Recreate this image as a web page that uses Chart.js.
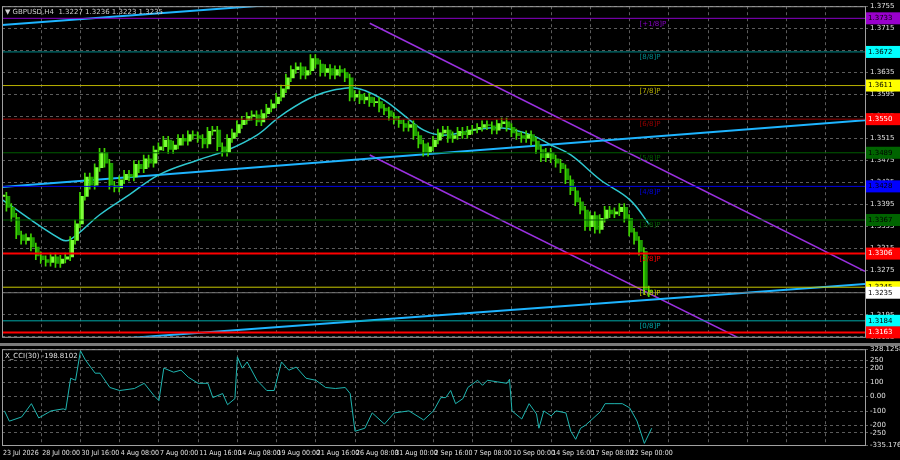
<!DOCTYPE html>
<html>
<head>
<meta charset="utf-8">
<script src="https://cdn.jsdelivr.net/npm/chart.js@4"></script>
<style>
  body { margin: 0; background: #000; width: 900px; height: 460px; overflow: hidden; }
  #pricePane { position: absolute; left: 0; top: 0; width: 900px; height: 343px; }
  #cciPane { position: absolute; left: 0; top: 343px; width: 900px; height: 117px; }
</style>
</head>
<body>
<div id="pricePane"><canvas id="priceChart"></canvas></div>
<div id="cciPane"><canvas id="cciChart"></canvas></div>
<script>
// ================= DATA =================
// closes, one every 2 H4 bars starting 23 Jul 2026
var closes = [
  1.3410, 1.3390, 1.3372, 1.3340, 1.3330, 1.3335, 1.3318, 1.3302, 1.3295, 1.3290,
  1.3300, 1.3288, 1.3296, 1.3300, 1.3330, 1.3360, 1.3410, 1.3445, 1.3430, 1.3462,
  1.3490, 1.3470, 1.3430, 1.3425, 1.3440, 1.3450, 1.3445, 1.3468, 1.3460, 1.3478,
  1.3470, 1.3494, 1.3500, 1.3512, 1.3495, 1.3503, 1.3515, 1.3510, 1.3522, 1.3520,
  1.3515, 1.3505, 1.3528, 1.3530, 1.3500, 1.3490, 1.3515, 1.3525, 1.3540, 1.3548,
  1.3555, 1.3558, 1.3545, 1.3560, 1.3570, 1.3578, 1.3590, 1.3605, 1.3625, 1.3640,
  1.3645, 1.3630, 1.3638, 1.3660, 1.3650, 1.3635, 1.3642, 1.3630, 1.3640, 1.3635,
  1.3625, 1.3590, 1.3595, 1.3585, 1.3590, 1.3580, 1.3582, 1.3570, 1.3565, 1.3555,
  1.3548, 1.3542, 1.3535, 1.3540, 1.3520, 1.3505, 1.3490, 1.3500, 1.3512, 1.3525,
  1.3530, 1.3515, 1.3520, 1.3528, 1.3522, 1.3530, 1.3532, 1.3535, 1.3540, 1.3538,
  1.3530, 1.3542, 1.3545, 1.3535, 1.3525, 1.3520, 1.3515, 1.3522, 1.3510, 1.3495,
  1.3480, 1.3490, 1.3478, 1.3470, 1.3460, 1.3440, 1.3420, 1.3400, 1.3385, 1.3355,
  1.3375, 1.3350, 1.3370, 1.3385, 1.3378, 1.3382, 1.3390, 1.3370, 1.3345, 1.3330,
  1.3310, 1.3240, 1.3235
];

var maBars = [0, 24, 28, 40, 52, 64, 80, 92, 104, 114, 128, 142, 148, 156, 164, 172, 180, 192, 204, 216, 224, 232, 244, 256, 264];
var maValues = [1.3404, 1.3332, 1.3332, 1.3377, 1.3413, 1.3449, 1.3476, 1.3494, 1.3521, 1.3557, 1.3593, 1.3607, 1.3602,
  1.3584, 1.3557, 1.3530, 1.3521, 1.3530, 1.3534, 1.3521, 1.3503, 1.3485, 1.3440, 1.3404, 1.3359];

var cciBars = [1, 3, 8, 12, 15, 20, 25, 26, 28, 30, 32, 34, 38, 40, 44, 48, 54, 58, 62, 64, 66, 70, 73, 76, 80, 84, 86,
  90, 92, 95, 96, 98, 100, 104, 108, 111, 114, 117, 120, 124, 128, 132, 136, 140, 142, 144, 148, 151, 156, 160, 166,
  172, 176, 179, 181, 183, 185, 188, 190, 194, 196, 198, 202, 206, 207, 208, 212, 215, 218, 219, 221, 224, 226, 230,
  232, 234, 236, 238, 244, 246, 250, 253, 256, 259, 262, 265];
var cciValues = [-99, -170, -141, -49, -148, -99, -85, -92, 127, 113, 317, 254, 162, 162, 63, 42, 56, 92, 7, -28, 197,
  169, 183, 134, 92, 92, -7, 21, -56, -14, 275, 197, 240, 113, 42, 42, 240, 183, 204, 127, 113, 63, 56, 63, 21, -240,
  -219, -113, -190, -113, -99, -162, -99, -7, -7, 42, -49, -14, 63, 113, 78, 113, 102, 92, 120, -99, -155, -49, -120,
  -219, -99, -134, -99, -113, -240, -296, -219, -198, -106, -49, -49, -49, -78, -169, -324, -219];

// murrey levels
var levelPrices = [1.3733, 1.3672, 1.3611, 1.3550, 1.3489, 1.3428, 1.3367, 1.3306, 1.3245, 1.3184, 1.3163];
var levelNames = ["[+1/8]P", "[8/8]P", "[7/8]P", "[6/8]P", "[5/8]P", "[4/8]P", "[3/8]P", "[2/8]P", "[1/8]P", "[0/8]P", ""];
var levelColors = ["#8a00c8", "#008b8b", "#b8b000", "#9a0000", "#005c00", "#0000e0", "#005c00", "#ff0000", "#c8c800", "#00a8a8", "#ff0000"];
var boxColors = ["#9900cc", "#00ffff", "#ffff00", "#ff0000", "#006400", "#0000ff", "#006400", "#ff0000", "#ffff00", "#00ffff", "#ff0000"];
var currentPrice = 1.3235;

// trend lines: [bar1, price1, bar2, price2]
var cyanLines = [[0, 1.3427, 352, 1.3548], [0, 1.3721, 118, 1.3760], [37, 1.3148, 352, 1.3251]];
var purpleLines = [[150, 1.3724, 352, 1.3274], [150, 1.3485, 305, 1.3143]];

var priceTicks = [1.3155, 1.3195, 1.3235, 1.3275, 1.3315, 1.3355, 1.3395, 1.3435, 1.3475, 1.3515, 1.3555, 1.3595, 1.3635, 1.3675, 1.3715, 1.3755];
var cciTicks = [-335.1764, -250, -200, -100, 0, 100, 200, 250, 328.1258];
var dateLabels = ["23 Jul 2026", "28 Jul 00:00", "30 Jul 16:00", "4 Aug 08:00", "7 Aug 00:00", "11 Aug 16:00",
  "14 Aug 08:00", "19 Aug 00:00", "21 Aug 16:00", "26 Aug 08:00", "31 Aug 00:00", "2 Sep 16:00",
  "7 Sep 08:00", "10 Sep 00:00", "14 Sep 16:00", "17 Sep 08:00", "22 Sep 00:00"];

var FONT = "DejaVu Sans";
var NARROW = "'Liberation Sans Narrow', 'DejaVu Sans Condensed', 'Liberation Sans'";
var GRID = "#5c5c5c";
var X_MAX = 352;

// ================= CANDLES =================
var wicks = [];
var bodies = [];
var bodyColors = [];
for (var i = 0; i < closes.length; i++) {
  var o = i === 0 ? closes[0] : closes[i - 1];
  var c = closes[i];
  wicks.push({ x: i * 2, y: [Math.min(o, c) - 0.0007, Math.max(o, c) + 0.0007] });
  bodies.push({ x: i * 2, y: [o, c === o ? c + 0.0002 : c] });
  bodyColors.push(c >= o ? "#7dff3a" : "#1c9a00");
}

function lineSet(pts, color, width) {
  return { type: "line", data: pts, borderColor: color, borderWidth: width, pointRadius: 0, fill: false };
}

var datasets = [];
for (var j = 0; j < levelPrices.length; j++) {
  var w = levelColors[j] === "#ff0000" ? 2 : 1;
  datasets.push(lineSet([{ x: 0, y: levelPrices[j] }, { x: X_MAX, y: levelPrices[j] }], levelColors[j], w));
}
datasets.push(lineSet([{ x: 0, y: currentPrice }, { x: X_MAX, y: currentPrice }], "#777777", 1));
datasets.push({ type: "bar", data: wicks, backgroundColor: "#3fd400", barThickness: 1 });
datasets.push({ type: "bar", data: bodies, backgroundColor: bodyColors, barThickness: 3 });
var maPts = maBars.map(function (b, k) { return { x: b, y: maValues[k] }; });
datasets.push({ type: "line", data: maPts, borderColor: "#2fc8d0", borderWidth: 1.5, pointRadius: 0, tension: 0.4, fill: false });
cyanLines.forEach(function (l) { datasets.push(lineSet([{ x: l[0], y: l[1] }, { x: l[2], y: l[3] }], "#1eb4ff", 2)); });
purpleLines.forEach(function (l) { datasets.push(lineSet([{ x: l[0], y: l[1] }, { x: l[2], y: l[3] }], "#9a30e0", 1.5)); });

// ================= SHARED =================
function xScaleOpts() {
  return {
    type: "linear", min: 0, max: X_MAX, offset: false,
    afterBuildTicks: function (s) {
      var t = [];
      for (var v = 0; v <= X_MAX; v += 16) t.push({ value: v });
      s.ticks = t;
    },
    grid: { color: GRID, drawTicks: false, offset: false },
    border: { display: true, color: GRID, width: 0, dash: [3, 3] },
    ticks: { display: false }
  };
}

var framePlugin = {
  id: "frame",
  beforeDraw: function (chart) {
    var ctx = chart.ctx;
    ctx.save();
    ctx.fillStyle = "#000";
    ctx.fillRect(0, 0, chart.width, chart.height);
    ctx.restore();
  },
  afterDraw: function (chart) {
    var a = chart.chartArea, ctx = chart.ctx;
    ctx.save();
    ctx.strokeStyle = "#a0a0a0";
    ctx.lineWidth = 1;
    ctx.strokeRect(a.left + 0.5, a.top + 0.5, a.right - a.left, a.bottom - a.top);
    ctx.restore();
  }
};

// ================= PRICE CHART =================
var pricePlugin = {
  id: "priceExtras",
  afterDraw: function (chart) {
    var ctx = chart.ctx, y = chart.scales.y, x = chart.scales.x, a = chart.chartArea;
    ctx.save();
    ctx.font = "7px " + FONT;
    ctx.textBaseline = "top";
    for (var k = 0; k < levelPrices.length; k++) {
      var py = y.getPixelForValue(levelPrices[k]);
      if (levelNames[k]) {
        ctx.fillStyle = levelColors[k];
        ctx.fillText(levelNames[k], x.getPixelForValue(260), py + 2);
      }
    }
    ctx.textBaseline = "middle";
    function box(price, bg, fg) {
      var by = y.getPixelForValue(price);
      ctx.fillStyle = bg;
      ctx.fillRect(a.right + 1, by - 6, 35, 12);
      ctx.fillStyle = fg;
      ctx.fillText(price.toFixed(4), a.right + 3, by);
    }
    for (var m = 0; m < levelPrices.length; m++) {
      box(levelPrices[m], boxColors[m], boxColors[m] === "#ff0000" ? "#fff" : "#000");
    }
    box(currentPrice, "#ffffff", "#000");
    ctx.textBaseline = "top";
    ctx.fillStyle = "#d0d0d0";
    ctx.fillText("\u25BC GBPUSD,H4  1.3227 1.3236 1.3223 1.3235", a.left + 3, a.top + 2);
    ctx.restore();
  }
};

var priceChart = new Chart(document.getElementById("priceChart"), {
  type: "bar",
  data: { datasets: datasets },
  options: {
    responsive: true, maintainAspectRatio: false, animation: false,
    layout: { padding: { left: 2, top: 3, bottom: 2 } },
    plugins: { legend: { display: false }, tooltip: { enabled: false } },
    scales: {
      x: xScaleOpts(),
      y: {
        position: "right", min: 1.3155, max: 1.3755,
        afterBuildTicks: function (s) { s.ticks = priceTicks.map(function (v) { return { value: v }; }); },
        afterFit: function (s) { s.width = 35; },
        grid: { color: GRID, drawTicks: true, tickLength: 3 },
        border: { display: true, color: GRID, width: 0, dash: [3, 3] },
        ticks: { color: "#e0e0e0", font: { family: FONT, size: 7 }, padding: 2, autoSkip: false,
          callback: function (v) { return v.toFixed(4); } }
      }
    }
  },
  plugins: [framePlugin, pricePlugin]
});

// ================= CCI CHART =================
var cciPlugin = {
  id: "cciExtras",
  afterDraw: function (chart) {
    var ctx = chart.ctx, a = chart.chartArea, x = chart.scales.x;
    ctx.save();
    ctx.fillStyle = "#7a7a7a";
    ctx.fillRect(0, 0, chart.width, 3);
    ctx.font = "7px " + FONT;
    ctx.fillStyle = "#e0e0e0";
    ctx.textBaseline = "top";
    ctx.fillText("X_CCI(30) -198.8102", a.left + 3, a.top + 3);
    ctx.font = "7px " + NARROW;
    dateLabels.forEach(function (lbl, k) {
      ctx.fillText(lbl, x.getPixelForValue(k * 16) + 1, a.bottom + 5);
    });
    ctx.restore();
  }
};

var cciChart = new Chart(document.getElementById("cciChart"), {
  type: "line",
  data: {
    datasets: [{
      data: cciBars.map(function (b, k) { return { x: b, y: cciValues[k] }; }),
      borderColor: "#1fb5b0", borderWidth: 1, pointRadius: 0, fill: false
    }]
  },
  options: {
    responsive: true, maintainAspectRatio: false, animation: false,
    layout: { padding: { left: 2, top: 5, bottom: 15 } },
    plugins: { legend: { display: false }, tooltip: { enabled: false } },
    scales: {
      x: xScaleOpts(),
      y: {
        position: "right", min: -335.1764, max: 328.1258,
        afterBuildTicks: function (s) { s.ticks = cciTicks.map(function (v) { return { value: v }; }); },
        afterFit: function (s) { s.width = 35; },
        grid: { color: GRID, tickLength: 3 },
        border: { display: true, color: GRID, width: 0, dash: [3, 3] },
        ticks: {
          color: "#e0e0e0", font: { family: FONT, size: 7 }, padding: 2, autoSkip: false,
          callback: function (v) { return v === 0 ? "0.00" : String(v); }
        }
      }
    }
  },
  plugins: [framePlugin, cciPlugin]
});
</script>
</body>
</html>
